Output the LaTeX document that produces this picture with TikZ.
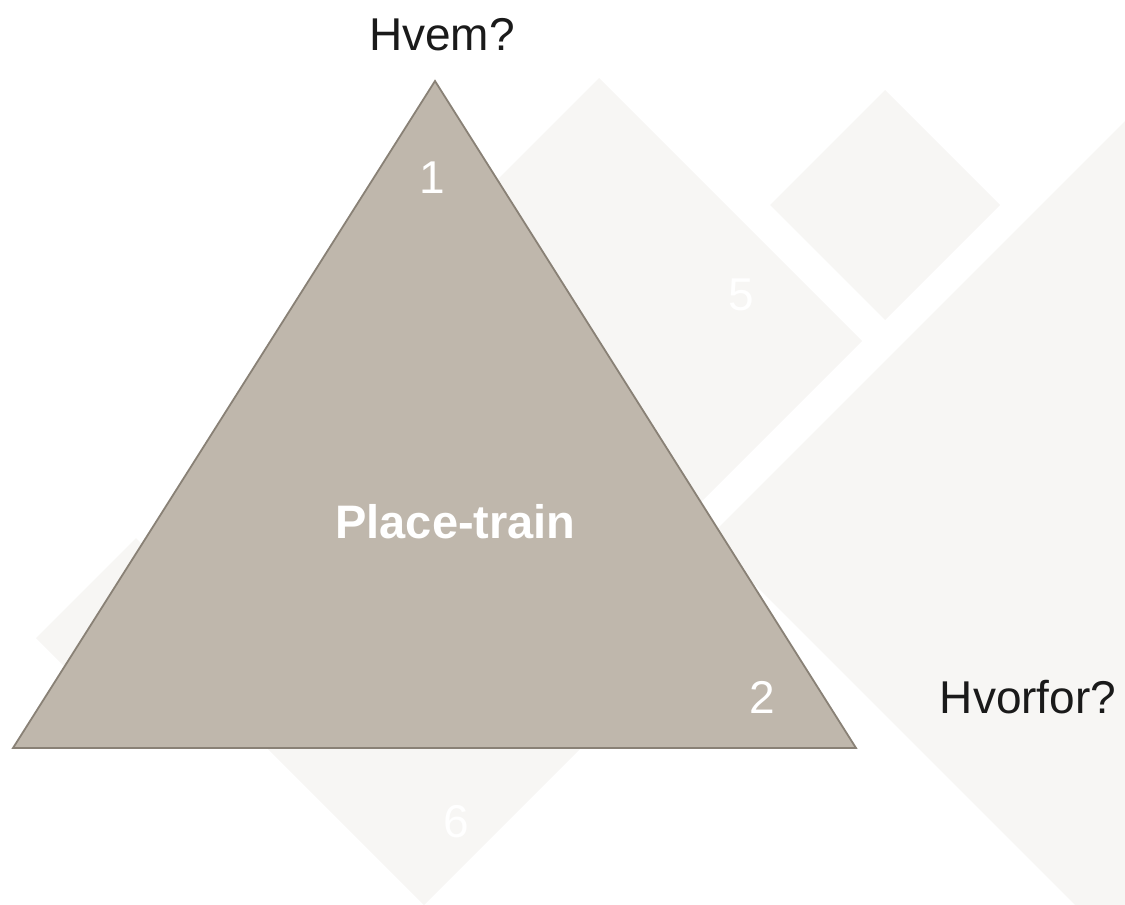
\documentclass[tikz,border=0pt]{standalone}
\usepackage{fontspec}
\setmainfont{Liberation Sans}
\definecolor{bgshape}{HTML}{F7F6F4}
\definecolor{trifill}{HTML}{BFB7AC}
\definecolor{tristroke}{HTML}{898176}
\definecolor{darktext}{HTML}{1A1A1A}
\tikzset{
  bgdiamond/.style={fill=bgshape, draw=none},
  question/.style={anchor=base, inner sep=0pt, text=darktext, font=\fontsize{46}{55}\selectfont},
  numlabel/.style={anchor=base, inner sep=0pt, text=white, font=\fontsize{46}{55}\selectfont},
  titlelabel/.style={anchor=base, inner sep=0pt, text=white, font=\bfseries\fontsize{47}{56}\selectfont},
}
\begin{document}
\begin{tikzpicture}[x=1pt,y=-1pt]
\useasboundingbox (0,0) rectangle (1125,905);
\begin{scope}
\clip (0,0) rectangle (1125,905);
% background diamonds
\fill[bgdiamond] (599,78) -- (862,341) -- (599,604) -- (336,341) -- cycle;   % 5
\fill[bgdiamond] (885,90) -- (1000,205) -- (885,320) -- (770,205) -- cycle;  % small top right
\fill[bgdiamond] (1208,38) -- (1708,538) -- (1208,1038) -- (708,538) -- cycle; % big right
\fill[bgdiamond] (136,538) -- (236,638) -- (136,738) -- (36,638) -- cycle;  % left small
\fill[bgdiamond] (424,405) -- (674,655) -- (424,905) -- (174,655) -- cycle; % 6
\end{scope}
% labels on background diamonds
\node[numlabel] (n5) at (741,310) {5};
\node[numlabel] (n6) at (456,837) {6};
% main triangle
\coordinate (apex) at (435,81);
\coordinate (bl) at (13,748);
\coordinate (br) at (856,748);
\filldraw[fill=trifill, draw=tristroke, line width=1.8pt, line join=miter] (apex) -- (br) -- (bl) -- cycle;
\node[numlabel] (n1) at (432,193) {1};
\node[numlabel] (n2) at (762,713) {2};
\node[titlelabel] (title) at (455.5,538) {Place-train};
% questions
\node[question] (hvem) at (442,50) {Hvem?};
\node[question] (hvorfor) at (1028,713) {Hvorfor?};
\end{tikzpicture}
\end{document}
